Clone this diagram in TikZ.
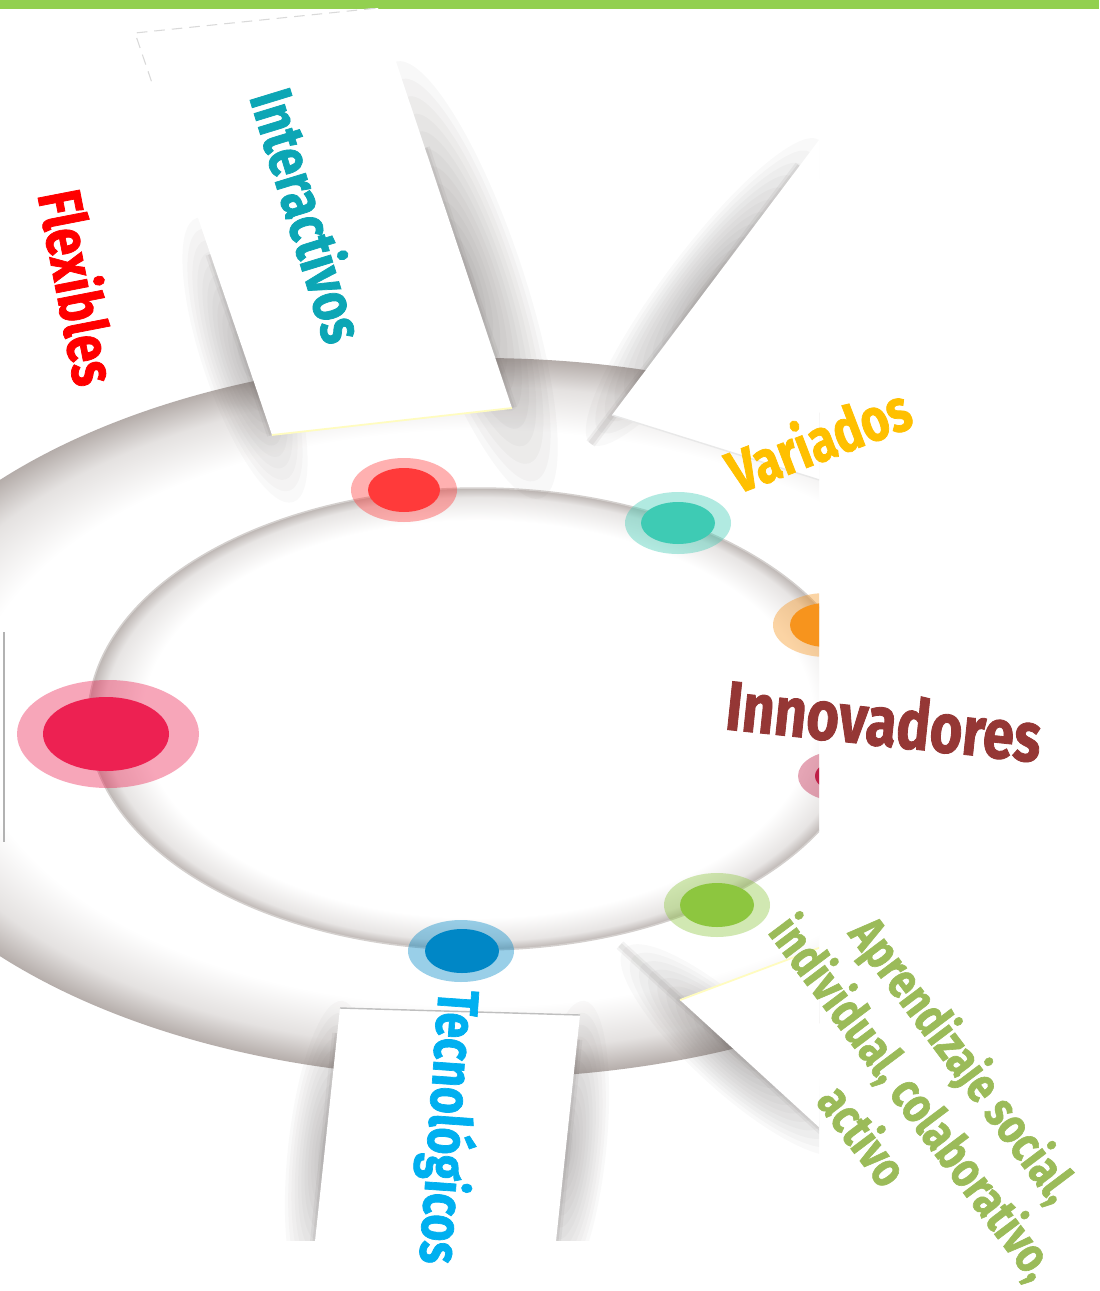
\documentclass[tikz,border=0pt]{standalone}
\usepackage{fontspec}
\newfontfamily\lblfont[FakeStretch=0.8, BoldFeatures={FakeBold=1.2}]{Fira Sans}
\usetikzlibrary{calc}
\definecolor{barGreen}{RGB}{146,208,80}
\definecolor{ringGray}{RGB}{160,150,146}
\definecolor{shadowCol}{RGB}{95,88,86}
\definecolor{cFlex}{RGB}{255,0,0}
\definecolor{cInter}{RGB}{12,166,181}
\definecolor{cVar}{RGB}{255,192,0}
\definecolor{cInno}{RGB}{149,55,53}
\definecolor{cTec}{RGB}{0,176,240}
\definecolor{cApr}{RGB}{155,187,89}
\definecolor{dRed}{RGB}{255,58,58}
\definecolor{dTeal}{RGB}{62,203,180}
\definecolor{dOrange}{RGB}{247,148,29}
\definecolor{dCrimson}{RGB}{190,30,70}
\definecolor{dGreen}{RGB}{141,198,63}
\definecolor{dBlue}{RGB}{0,135,198}
\definecolor{dPink}{RGB}{237,33,82}
\pgfdeclareradialshading{ringsh}{\pgfpoint{0cm}{0cm}}{color(0bp)=(white); color(20bp)=(white); color(23bp)=(ringGray!28); color(25bp)=(ringGray!78); color(50bp)=(ringGray!78)}
\pgfdeclareradialshading{holesh}{\pgfpoint{0cm}{0cm}}{color(0bp)=(white); color(21.5bp)=(white); color(24bp)=(ringGray!25); color(25bp)=(ringGray!70); color(50bp)=(ringGray!70)}
% soft shadow: centre x, centre y, angle, half length, half width, opacity per layer
\newcommand\softshadow[6]{%
  \foreach \s in {1,0.92,...,0.1}{%
    \fill[shadowCol, opacity=#6, rotate around={#3:(#1,#2)}] (#1,#2) ellipse [x radius=\s*#4, y radius=\s*#5];}}
% crisp darker line right along a paper edge
\newcommand\edgeline[2]{%
  \draw[shadowCol, opacity=0.07, line width=0.1cm, line cap=butt] #1 -- #2;
  \draw[shadowCol, opacity=0.09, line width=0.05cm, line cap=butt] #1 -- #2;}
\tikzset{
  lbl/.style={inner sep=0pt, anchor=center},
  paper/.style={fill=white},
  dotring/.style={fill=#1, fill opacity=0.4},
  dotcore/.style={fill=#1},
}
\begin{document}
\begin{tikzpicture}[x=0.01cm,y=0.01cm]
\useasboundingbox (0,0) rectangle (1099,-1291);
\fill[white] (0,0) rectangle (1099,-1291);
\fill[barGreen] (0,0) rectangle (1099,-9);
\begin{scope}
\clip (0,-9) rectangle (819,-1240);
% ring
\shade[shading=ringsh] (480,-718) ellipse [x radius=640, y radius=360];
\shade[shading=holesh] (478,-719) ellipse [x radius=390, y radius=231];
\draw[ringGray!45, line width=0.015cm] (478,-719) ellipse [x radius=390, y radius=231];
% strip corners
\coordinate (iTL) at (135,-33);
\coordinate (iTR) at (378,-8);
\coordinate (iBR) at (512,-408);
\coordinate (iBL) at (272,-435);
\coordinate (vA) at (612,-415);
\coordinate (vB) at (880,-59);
\coordinate (vC) at (880,-499);
\coordinate (tTL) at (340,-1008);
\coordinate (tTR) at (580,-1015);
\coordinate (tBR) at (554,-1260);
\coordinate (tBL) at (313,-1260);
\coordinate (aA) at (680,-1000);
\coordinate (aB) at (880,-925);
\coordinate (aC) at (880,-1183);
% soft shadows along strip edges
\softshadow{245}{-360}{-71.2}{150}{42}{0.03}
\softshadow{468}{-280}{-71.5}{230}{55}{0.04}
\softshadow{705}{-292}{53}{190}{42}{0.035}
\softshadow{326}{-1150}{83.8}{150}{38}{0.03}
\softshadow{568}{-1150}{83.8}{150}{38}{0.03}
\softshadow{735}{-1050}{-42.4}{150}{42}{0.035}
\edgeline{($(iTL)!0.55!(iBL)$)}{(iBL)}
\edgeline{($(iTR)!0.35!(iBR)$)}{(iBR)}
\edgeline{($(vA)!-0.08!(vB)$)}{($(vA)!0.7!(vB)$)}
\edgeline{($(tTL)!0.1!(tBL)$)}{(tBL)}
\edgeline{($(tTR)!0.1!(tBR)$)}{(tBR)}
\edgeline{($(aA)!-0.3!(aC)$)}{(aC)}
% paper strips
\fill[paper] (iTL) -- (iTR) -- (iBR) -- (iBL) -- cycle;
\fill[paper] (vA) -- (vB) -- (vC) -- cycle;
\fill[paper] (tTL) -- (tTR) -- (tBR) -- (tBL) -- cycle;
\fill[paper] (aA) -- (aB) -- (aC) -- cycle;
% strip edge details
\draw[gray!30, line width=0.3pt, dash pattern=on 3pt off 2pt] ($(iTL)!0.12!(iBL)$) -- (iTL) -- (iTR);
\draw[yellow!25, line width=0.5pt] (iBL) -- (iBR);
\draw[gray!18, line width=0.4pt] (vA) -- (vC);
\draw[gray!50, line width=0.4pt] (tTL) -- (tTR);
\draw[yellow!25, line width=0.5pt] (aA) -- (aB);
\draw[gray!60, line width=0.3pt] (4,-632) -- (4,-842);
% dots
\fill[dotring=dRed] (404,-490) ellipse [x radius=53, y radius=32];
\fill[dotcore=dRed] (404,-490) ellipse [x radius=36, y radius=22];
\fill[dotring=dTeal] (678,-523) ellipse [x radius=53, y radius=31];
\fill[dotcore=dTeal] (678,-523) ellipse [x radius=37, y radius=21];
\fill[dotring=dOrange] (826,-625) ellipse [x radius=53, y radius=32];
\fill[dotcore=dOrange] (826,-625) ellipse [x radius=36, y radius=22];
\fill[dotring=dCrimson] (838,-776) ellipse [x radius=40, y radius=25];
\fill[dotcore=dCrimson] (838,-776) ellipse [x radius=23, y radius=15];
\fill[dotring=dGreen] (717,-905) ellipse [x radius=53, y radius=32];
\fill[dotcore=dGreen] (717,-905) ellipse [x radius=37, y radius=22];
\fill[dotring=dBlue] (461,-951) ellipse [x radius=53, y radius=31];
\fill[dotcore=dBlue] (462,-951) ellipse [x radius=37, y radius=22];
\fill[dotring=dPink] (108,-734) ellipse [x radius=91, y radius=54];
\fill[dotcore=dPink] (106,-734) ellipse [x radius=63, y radius=37];
\end{scope}
% labels
\node[lbl, text=cFlex, rotate=-79, font=\lblfont\bfseries\fontsize{17.4pt}{20pt}\selectfont] (flex) at (80,-287) {Flexibles};
\node[lbl, text=cInter, rotate=-73, font=\lblfont\bfseries\fontsize{17.1pt}{20pt}\selectfont] (inter) at (310,-215) {Interactivos};
\node[lbl, text=cVar, rotate=21, font=\lblfont\bfseries\fontsize{17.1pt}{20pt}\selectfont] (var) at (818,-438) {Variados};
\node[lbl, text=cInno, rotate=-6, font=\lblfont\bfseries\fontsize{19.9pt}{23pt}\selectfont] (inno) at (884,-720) {Innovadores};
\node[lbl, text=cTec, rotate=-94, font=\lblfont\bfseries\fontsize{16.5pt}{19pt}\selectfont] (tec) at (447,-1127) {Tecnológicos};
\node[lbl, text=cApr, rotate=-53, align=center, font=\lblfont\bfseries\fontsize{14.2pt}{18pt}\selectfont] (apr) at (915,-1096) {Aprendizaje social,\\individual, colaborativo,\\activo};
\end{tikzpicture}
\end{document}
